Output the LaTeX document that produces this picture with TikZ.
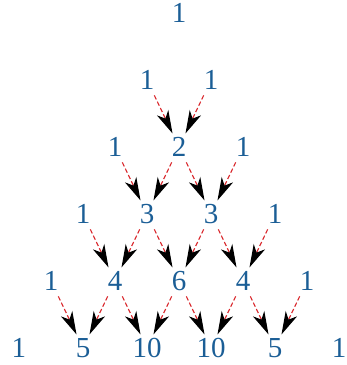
\documentclass[tikz,border=0pt]{standalone}
\usepackage{fontspec}
\setmainfont{Liberation Serif}
\usetikzlibrary{arrows.meta}
\definecolor{numblue}{HTML}{1B5E96}
\definecolor{arrred}{HTML}{D9262B}
\begin{document}
\begin{tikzpicture}[x=1pt,y=1pt,
  num/.style={text=numblue,font=\fontsize{29}{35}\selectfont,inner sep=0pt},
  link/.style={draw=arrred,line width=1.1pt,dash pattern=on 4.5pt off 2.5pt,
    arrows={-Stealth[length=23pt,width=12.5pt,inset=6.5pt,color=black]},
    shorten <=17pt,shorten >=15pt}]
\useasboundingbox (0,0) rectangle (347,-365);
\foreach \k/\v in {0/1}{\node[num] (n0-\k) at ({179+(2*\k-0)*32},{-(13+67*0)}) {\v};}
\foreach \k/\v in {0/1,1/1}{\node[num] (n1-\k) at ({179+(2*\k-1)*32},{-(13+67*1)}) {\v};}
\foreach \k/\v in {0/1,1/2,2/1}{\node[num] (n2-\k) at ({179+(2*\k-2)*32},{-(13+67*2)}) {\v};}
\foreach \k/\v in {0/1,1/3,2/3,3/1}{\node[num] (n3-\k) at ({179+(2*\k-3)*32},{-(13+67*3)}) {\v};}
\foreach \k/\v in {0/1,1/4,2/6,3/4,4/1}{\node[num] (n4-\k) at ({179+(2*\k-4)*32},{-(13+67*4)}) {\v};}
\foreach \k/\v in {0/1,1/5,2/10,3/10,4/5,5/1}{\node[num] (n5-\k) at ({179+(2*\k-5)*32},{-(13+67*5)}) {\v};}
\foreach \r in {2,...,5}{
  \pgfmathtruncatemacro{\p}{\r-1}
  \pgfmathtruncatemacro{\m}{\r-1}
  \foreach \k in {1,...,\m}{
    \pgfmathtruncatemacro{\j}{\k-1}
    \draw[link] (n\p-\j.center) -- (n\r-\k.center);
    \draw[link] (n\p-\k.center) -- (n\r-\k.center);
  }
}
\end{tikzpicture}
\end{document}
